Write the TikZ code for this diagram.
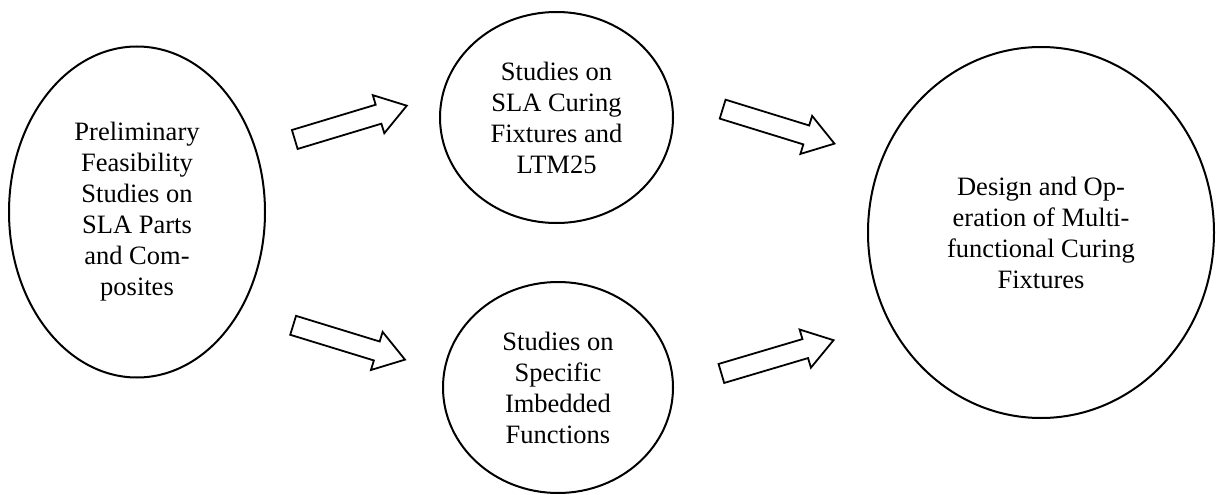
\documentclass[tikz,border=0pt]{standalone}
\usepackage{fontspec}
\setmainfont{Liberation Serif}
\usetikzlibrary{shapes.geometric,shapes.arrows}

\begin{document}
\begin{tikzpicture}[x=0.5pt,y=0.5pt,
    bubble/.style={draw,ellipse,line width=1pt,inner sep=0pt,align=center,
      font=\fontsize{13.25}{15.5}\selectfont},
    fatarrow/.style={draw,single arrow,line width=0.9pt,inner xsep=0pt,inner ysep=4.5pt,
      minimum height=58.5pt,minimum width=19pt,single arrow head extend=5pt,
      single arrow tip angle=68,sloped}]
  \useasboundingbox (0,0) rectangle (1216,494);
  \node[bubble,minimum width=128pt,minimum height=165.5pt] (prelim) at (137,282)
    {Preliminary\\Feasibility\\Studies on\\SLA Parts\\and Com-\\posites};
  \node[bubble,minimum width=116.5pt,minimum height=105.5pt] (curing) at (556.5,376.5)
    {Studies on\\SLA Curing\\Fixtures and\\LTM25};
  \node[bubble,minimum width=115pt,minimum height=105.5pt] (imbed) at (558,106.5)
    {Studies on\\Specific\\Imbedded\\Functions};
  \node[bubble,minimum width=173pt,minimum height=185.5pt] (design) at (1041,261.5)
    {Design and Op-\\eration of Multi-\\functional Curing\\Fixtures};
  \path (prelim.27.4) -- node[fatarrow,pos=0.47] {} (curing.169.6);
  \path (curing.12.5) -- node[fatarrow,pos=0.478] {} (design.155.7);
  \path (prelim.317.7) -- node[fatarrow,pos=0.498] {} (imbed.172.7);
  \path (imbed.0) -- node[fatarrow,pos=0.448] {} (design.211.5);
\end{tikzpicture}
\end{document}
